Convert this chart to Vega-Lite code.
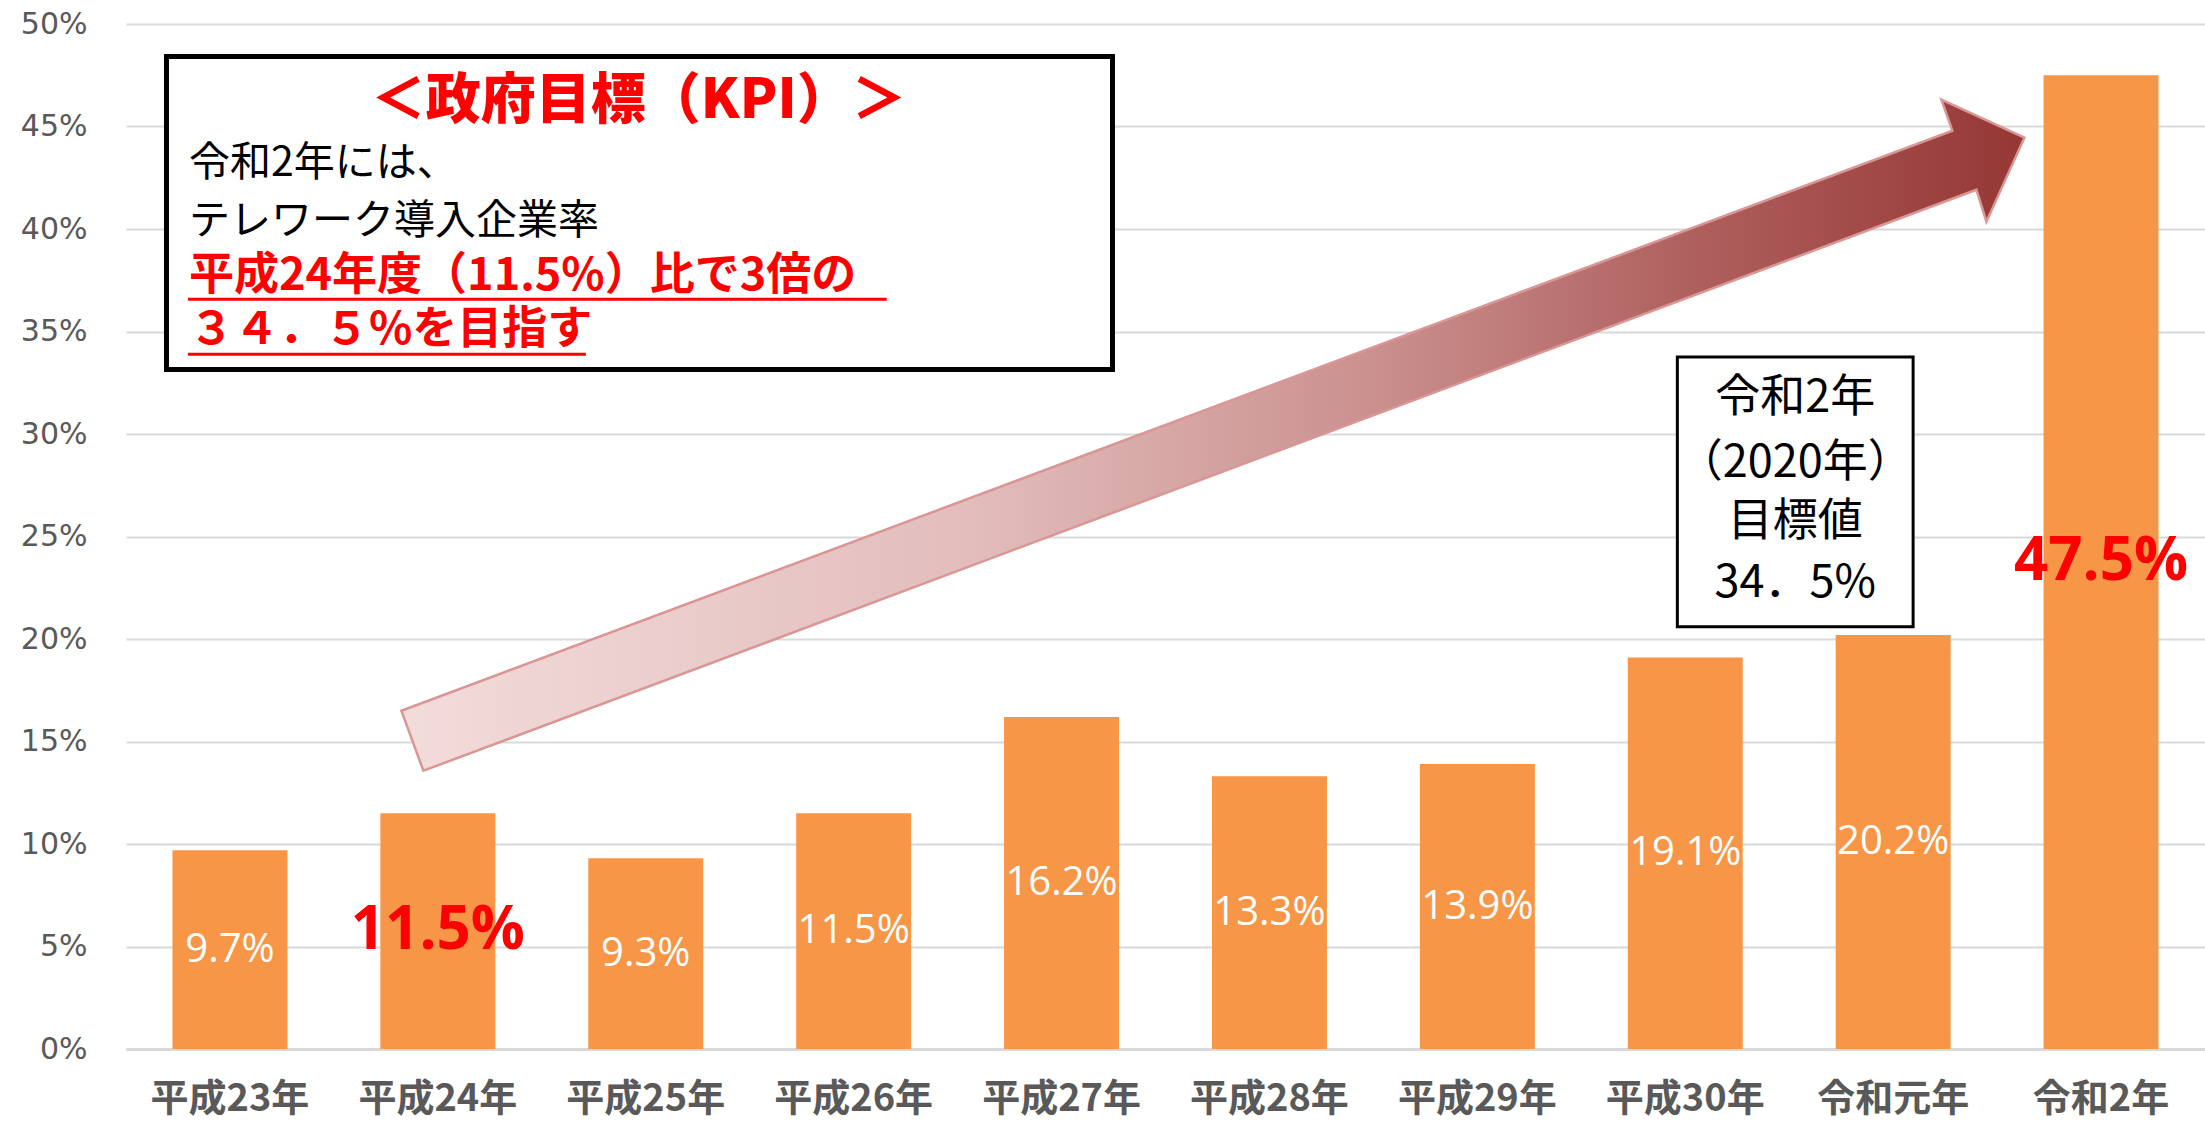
{
  "$schema": "https://vega.github.io/schema/vega-lite/v6.json",
  "width": 2079,
  "height": 1025,
  "autosize": {"type": "none"},
  "padding": {"left": 126, "top": 24, "right": 0, "bottom": 72},
  "background": "white",
  "config": {"view": {"stroke": null}},
  "datasets": {
    "bars": [
      {"year": "平成23年", "value": 0.097},
      {"year": "平成24年", "value": 0.115},
      {"year": "平成25年", "value": 0.093},
      {"year": "平成26年", "value": 0.115},
      {"year": "平成27年", "value": 0.162},
      {"year": "平成28年", "value": 0.133},
      {"year": "平成29年", "value": 0.139},
      {"year": "平成30年", "value": 0.191},
      {"year": "令和元年", "value": 0.202},
      {"year": "令和2年", "value": 0.475}
    ]
  },
  "layer": [
    {
      "data": {"name": "bars"},
      "mark": {"type": "bar", "color": "#F79646"},
      "encoding": {
        "x": {
          "field": "year", "type": "nominal", "sort": null,
          "scale": {
            "domain": ["平成23年", "平成24年", "平成25年", "平成26年", "平成27年", "平成28年", "平成29年", "平成30年", "令和元年", "令和2年"],
            "paddingInner": 0.447, "paddingOuter": 0.2235
          },
          "axis": {
            "title": null, "labelAngle": 0, "ticks": false,
            "labelFont": "Noto Sans CJK JP", "labelFontWeight": "bold", "labelFontSize": 38,
            "labelColor": "#595959", "labelPadding": 31,
            "domainColor": "#D9D9D9", "domainWidth": 3, "grid": false
          }
        },
        "y": {
          "field": "value", "type": "quantitative",
          "scale": {"domain": [0, 0.5], "nice": false, "zero": true},
          "axis": {
            "title": null, "values": [0, 0.05, 0.1, 0.15, 0.2, 0.25, 0.3, 0.35, 0.4, 0.45, 0.5],
            "format": ".0%", "labelFont": "DejaVu Sans", "labelFontSize": 30, "labelColor": "#595959",
            "labelPadding": 39, "ticks": false, "domain": false,
            "grid": true, "gridColor": "#D9D9D9", "gridWidth": 2
          }
        }
      }
    },
    {
      "data": {"name": "bars"},
      "encoding": {
        "x": {
          "field": "year", "type": "nominal", "sort": null,
          "scale": {
            "domain": ["平成23年", "平成24年", "平成25年", "平成26年", "平成27年", "平成28年", "平成29年", "平成30年", "令和元年", "令和2年"],
            "paddingInner": 0.447, "paddingOuter": 0.2235
          },
          "axis": null
        },
        "y": {
          "field": "value", "type": "quantitative",
          "scale": {"domain": [0, 1], "nice": false, "zero": true},
          "axis": null
        },
        "text": {"field": "value", "type": "quantitative", "format": ".1%"}
      },
      "layer": [
        {
          "transform": [{"filter": "datum.year !== '平成24年' && datum.year !== '令和2年'"}],
          "mark": {"type": "text", "font": "Open Sans", "fontSize": 40, "color": "white", "baseline": "middle", "align": "center"}
        },
        {
          "transform": [{"filter": "datum.year === '平成24年' || datum.year === '令和2年'"}],
          "mark": {"type": "text", "font": "Open Sans", "fontWeight": "bold", "fontSize": 60, "color": "#FF0000", "baseline": "middle", "align": "center"}
        }
      ]
    },
    {
      "encoding": {
        "x": {"field": "px", "type": "quantitative", "scale": {"domain": [0, 10], "nice": false, "zero": false}, "axis": null},
        "y": {"field": "py", "type": "quantitative", "scale": {"domain": [0, 0.5], "nice": false, "zero": false}, "axis": null}
      },
      "layer": [
        {
          "data": {"values": [{"px": 5.228, "py": 0.2994}]},
          "mark": {
            "type": "point",
            "shape": "M-8.115,2.755L7.395,-3.045L7.285,-3.355L8.115,-2.975L7.735,-2.135L7.635,-2.455L-7.895,3.355Z",
            "size": 40000,
            "filled": true,
            "opacity": 1,
            "fill": {
              "gradient": "linear", "x1": 0, "y1": 0, "x2": 1, "y2": 0,
              "stops": [
                {"offset": 0, "color": "#F2DCDB"},
                {"offset": 0.35, "color": "#E2BDBC"},
                {"offset": 0.6, "color": "#CA908E"},
                {"offset": 0.8, "color": "#AE5F5D"},
                {"offset": 1, "color": "#953735"}
              ]
            },
            "stroke": "#D99694",
            "strokeWidth": 2.5
          }
        },
        {
          "data": {"values": [{"px": 0.1947, "px2": 4.745, "py": 0.4842, "py2": 0.3315}]},
          "mark": {"type": "rect", "fill": "white", "stroke": "black", "strokeWidth": 5},
          "encoding": {"x2": {"field": "px2"}, "y2": {"field": "py2"}}
        },
        {
          "data": {"values": [{"px": 7.462, "px2": 8.596, "py": 0.3376, "py2": 0.206}]},
          "mark": {"type": "rect", "fill": "white", "stroke": "black", "strokeWidth": 3},
          "encoding": {"x2": {"field": "px2"}, "y2": {"field": "py2"}}
        },
        {
          "data": {"values": [{"px": 2.466, "py": 0.4625, "t": "＜政府目標（KPI）＞"}]},
          "mark": {"type": "text", "font": "Noto Sans CJK JP", "fontWeight": 900, "fontSize": 55, "color": "#FF0000", "align": "center", "baseline": "middle"},
          "encoding": {"text": {"field": "t"}}
        },
        {
          "data": {"values": [
            {"px": 0.303, "py": 0.4317, "t": "令和2年には、"},
            {"px": 0.303, "py": 0.4034, "t": "テレワーク導入企業率"}
          ]},
          "mark": {"type": "text", "font": "Noto Sans CJK JP", "fontSize": 41, "color": "black", "align": "left", "baseline": "middle"},
          "encoding": {"text": {"field": "t"}}
        },
        {
          "data": {"values": [
            {"px": 0.303, "py": 0.3771, "t": "平成24年度（11.5%）比で3倍の"},
            {"px": 0.303, "py": 0.3508, "t": "３４．５%を目指す"}
          ]},
          "mark": {"type": "text", "font": "Noto Sans CJK JP", "fontWeight": "bold", "fontSize": 45, "color": "#FF0000", "align": "left", "baseline": "middle"},
          "encoding": {"text": {"field": "t"}}
        },
        {
          "data": {"values": [
            {"px": 0.298, "px2": 3.659, "py": 0.3657},
            {"px": 0.298, "px2": 2.212, "py": 0.3389}
          ]},
          "mark": {"type": "rule", "color": "#FF0000", "strokeWidth": 3},
          "encoding": {"x2": {"field": "px2"}}
        },
        {
          "data": {"values": [
            {"px": 8.029, "py": 0.3176, "t": "令和2年"},
            {"px": 8.029, "py": 0.2859, "t": "（2020年）"},
            {"px": 8.029, "py": 0.2572, "t": "目標値"},
            {"px": 8.029, "py": 0.2275, "t": "34．5%"}
          ]},
          "mark": {"type": "text", "font": "Noto Sans CJK JP", "fontSize": 45, "color": "black", "align": "center", "baseline": "middle"},
          "encoding": {"text": {"field": "t"}}
        }
      ]
    }
  ],
  "resolve": {"scale": {"x": "independent", "y": "independent"}}
}
